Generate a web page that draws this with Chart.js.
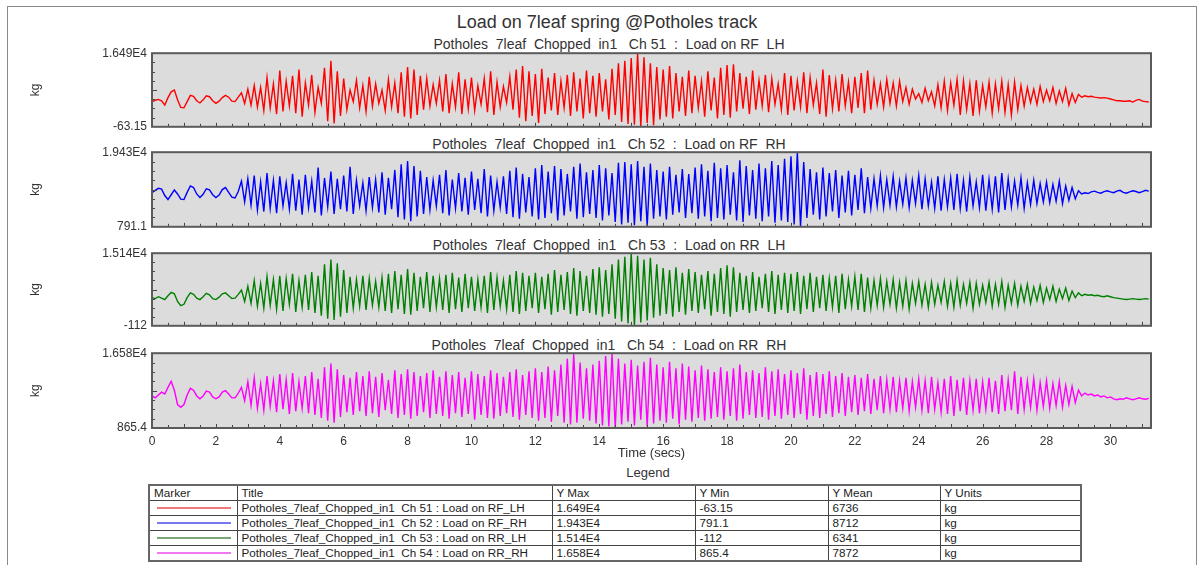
<!DOCTYPE html>
<html><head><meta charset="utf-8">
<script src="https://cdn.jsdelivr.net/npm/chart.js@4/dist/chart.umd.min.js"></script>
<style>
html,body{margin:0;padding:0;background:#fff;}
body{width:1204px;height:565px;position:relative;overflow:hidden;font-family:"Liberation Sans",Arial,sans-serif;color:#333;}
#frame{position:absolute;left:7px;top:6px;width:1188px;height:600px;border:1px solid #8a8a8a;}
.txt{position:absolute;white-space:pre;transform:translate(-50%,-50%);line-height:1;}
canvas{position:absolute;left:0;}
#legendTable{position:absolute;left:148px;top:484px;width:934px;border-collapse:collapse;font-size:11.7px;color:#222;border:2px solid #666;table-layout:fixed;}
#legendTable td{border:1px solid #444;height:14px;padding:0 0 0 4px;white-space:pre;line-height:14px;overflow:hidden;}
.mk{width:74px;height:2px;margin-left:7px;}
</style>
</head><body>
<div id="frame"></div>
<div class="txt" style="left:607px;top:22px;font-size:18px;">Load on 7leaf spring @Potholes track</div>
<div id="subs"></div>
<canvas id="c0" width="1204" height="98" style="top:41px;width:1204px;height:98px;"></canvas>
<canvas id="c1" width="1204" height="99" style="top:140px;width:1204px;height:99px;"></canvas>
<canvas id="c2" width="1204" height="97" style="top:241px;width:1204px;height:97px;"></canvas>
<canvas id="c3" width="1204" height="122" style="top:341px;width:1204px;height:122px;"></canvas>
<div class="txt" style="left:648px;top:472px;font-size:13px;">Legend</div>
<table id="legendTable"></table>
<script>
// ---------- data ----------
const SAMPLE_DT = 0.1;          // seconds between samples
const X_MAX = 31.27;            // end of record (s)
const xTickValues = [0,2,4,6,8,10,12,14,16,18,20,22,24,26,28,30];

const panelTitles = [
  "Potholes  7leaf  Chopped  in1   Ch 51  :  Load on RF  LH",
  "Potholes  7leaf  Chopped  in1   Ch 52  :  Load on RF  RH",
  "Potholes  7leaf  Chopped  in1   Ch 53  :  Load on RR  LH",
  "Potholes  7leaf  Chopped  in1   Ch 54  :  Load on RR  RH"
];
const seriesTitles = [
  "Potholes_7leaf_Chopped_in1  Ch 51 : Load on RF_LH",
  "Potholes_7leaf_Chopped_in1  Ch 52 : Load on RF_RH",
  "Potholes_7leaf_Chopped_in1  Ch 53 : Load on RR_LH",
  "Potholes_7leaf_Chopped_in1  Ch 54 : Load on RR_RH"
];
const yMaxValues = [16490, 19430, 15140, 16580];
const yMinValues = [-63.15, 791.1, -112, 865.4];
const yMaxLabels = ["1.649E4", "1.943E4", "1.514E4", "1.658E4"];
const yMinLabels = ["-63.15", "791.1", "-112", "865.4"];
const yMeanLabels = ["6736", "8712", "6341", "7872"];
const yUnits = ["kg", "kg", "kg", "kg"];
const colors = ["#ff0000", "#0000ff", "#008000", "#ff00ff"];
const markerColors = ["#f07878", "#7878f0", "#78a878", "#f078f0"];

const ch51 = [
5600,5900,6100,5800,4800,6500,7800,8200,6000,4300,
4200,5600,7000,6800,5800,5300,6000,6900,6700,5800,
5200,5700,6500,7000,6600,5700,5600,6600,7600,5200,
8400,4800,9200,4400,8800,3600,11000,4200,9600,2800,
12600,3400,10200,4600,11400,3000,12800,2200,9800,4800,
11600,3200,8800,5200,13200,1200,14800,700,12400,2400,
10800,3800,8200,5600,10400,4200,9200,3400,11200,4600,
9600,5200,8200,3600,10600,4400,9800,3000,12200,2200,
13400,1800,12800,2600,11400,3800,10800,4600,9400,5200,
10400,3400,11800,3000,9600,4400,12200,2800,10600,4000,
11000,3600,9200,5000,10800,3200,12400,2600,10000,4400,
9000,5400,11200,3800,12800,2000,13600,1200,12400,2400,
11800,800,13000,2800,11000,3600,12000,2600,10200,4200,
11600,2400,12200,3400,10800,1800,12600,3000,11400,2200,
12000,3400,10600,1600,13000,2600,14200,1000,14800,600,
15400,400,16490,-63.15,15600,800,14200,300,13400,1600,
12800,2200,13600,1800,12000,3400,11200,2400,12600,3000,
11400,4200,10200,2200,12400,3600,11000,1800,13200,2600,
13800,2000,14000,3400,12000,4000,11200,2800,12600,3800,
10400,4600,11600,3200,10800,5000,9600,3800,12000,2600,
11400,3600,10200,4400,12200,3000,11000,4800,9800,2800,
12800,2200,11600,4000,10400,3400,11800,4600,10000,3000,
11200,4200,12000,3000,12600,3800,10400,5000,9600,4400,
10600,5200,9800,4600,10200,5600,8800,5000,8400,6200,
7400,5400,8600,5800,7800,4600,9400,4200,10200,3600,
9800,4800,10600,2600,10200,3800,9600,2400,10400,3400,
9200,4400,10000,3000,9600,4000,10200,3200,9400,2600,
10000,3800,9200,4600,8800,5400,8400,5000,9000,5600,
8200,5800,8800,5200,8000,5600,8600,4800,7400,5400,
7200,6600,6900,6700,6800,6600,6500,6400,6500,6400,
6200,6000,5800,5800,5700,5700,5800,5500,5900,6100,
5700,5600,5500];

const ch52 = [
9300,9900,10400,10200,8600,7600,8800,10000,9000,7700,
7600,9400,11000,10600,9000,8100,8900,10300,10000,8800,
8100,8700,10100,10600,9400,8200,8000,9600,12200,7000,
12800,6200,13600,5000,12000,4600,14200,5400,12400,4200,
13400,6000,11800,5200,14000,4800,12600,3800,13800,5600,
12200,4400,15600,3600,13000,5800,14600,4000,12800,5200,
13600,4600,15800,4000,12400,6000,11800,4800,13200,5600,
12600,4400,14400,3800,13000,5200,15000,3200,16400,2600,
17200,2200,16000,3400,14800,4000,13200,5000,12400,6000,
13800,4200,15000,3600,12600,5400,14200,4600,13000,3800,
14600,5000,12800,4200,15200,3400,13600,4800,12000,5600,
13400,4000,14800,3200,15600,2800,14000,4400,13200,3400,
15400,2600,16200,3000,14600,4200,16000,2400,15200,3600,
14000,4600,15800,2800,16600,3200,14400,4000,15000,3000,
16200,2400,15400,3600,14200,2000,16800,1400,17000,1800,
16400,1200,17200,2200,15800,1000,16600,2800,15000,3400,
14600,2600,15800,3800,13800,4400,15200,3000,14000,4200,
15600,2800,16400,3400,14800,2200,16800,3000,15400,2600,
16200,3800,14400,2400,17400,2000,16000,3600,15000,2800,
16600,2200,15400,3400,17200,1800,16200,2400,17800,2000,
18400,1400,19430,791.1,17000,3000,15200,3800,14400,2600,
15600,3400,14200,4600,15000,3000,13600,4400,14800,3600,
13800,5000,15400,4200,13200,5400,12800,6000,13600,5600,
12600,6200,13400,5800,12200,6400,13000,5600,12400,6600,
13600,5200,12800,6000,12000,5400,13400,4800,12600,5800,
13000,5000,14000,5400,12400,4600,13200,6000,12000,5600,
13800,4800,12600,5200,13400,4400,14200,5000,12800,5800,
12200,6200,13000,5400,11800,6400,12400,6600,11600,7000,
12000,6800,11400,7200,12200,6600,11000,7400,10600,7800,
9800,9000,9300,9100,9500,9700,9400,9200,9600,9800,
9500,9300,9700,9900,9400,9200,9500,9800,9600,9300,
9600,9900,9700];

const ch53 = [
5800,5600,6000,5700,5400,6200,6900,6600,5000,4100,
4400,5800,6800,6500,5700,5400,6000,6700,6400,5600,
5400,5900,6600,6800,6200,5600,5700,6500,7400,5000,
8200,4600,9400,4000,8800,3600,10200,4200,9600,3400,
10400,3000,9800,4400,10800,2800,9400,3800,10600,3200,
11200,2600,10400,2000,12800,1400,13800,1100,13000,1800,
11600,2600,10200,3600,9600,4000,10400,3200,9800,4200,
9200,3800,10000,3000,10800,2600,11400,3400,10600,2400,
11800,2200,11000,3000,10200,3600,11200,2800,10400,3800,
9800,3200,10600,2600,11000,3400,10000,2800,10800,3600,
10200,3000,9600,3800,10400,2600,11200,3200,10000,4000,
9400,3400,10600,2800,11400,2400,11000,3000,10400,3600,
11000,2600,10200,3400,10800,2200,11600,2800,10600,3200,
11200,2400,12000,2000,11400,3000,10400,2600,11800,2200,
12200,1800,11600,2400,12800,1400,13800,800,14400,400,
15140,-112,14600,600,13800,1000,14200,1600,12800,2000,
12000,2400,11600,1800,12200,2800,11000,2200,11800,3000,
11200,2600,10600,3400,11400,2000,10800,2800,12000,2400,
12600,1800,12200,2800,11000,3200,10400,2600,11200,3000,
10200,3600,10800,2800,11400,2400,10600,3200,11000,2600,
10800,3000,11200,2400,10400,3400,11000,2800,10200,3600,
10600,3000,9800,3800,10400,2600,10800,3400,9600,4000,
10200,3200,10800,2800,10000,3600,9400,4200,9800,3800,
9200,4400,9600,3600,9000,4000,9400,3400,8800,4600,
9200,4200,8600,3800,9000,4400,8400,4800,9200,4000,
8800,3800,9400,4200,8600,4600,9000,3600,8800,4400,
8400,4800,9000,4000,8600,4400,9200,3800,8400,4600,
8800,4200,8200,5000,8600,4600,8000,5200,8400,4800,
7800,5400,8200,5000,7600,5600,7800,5200,7200,5800,
6800,6200,6500,6300,6400,6200,6300,6100,6000,6200,
6000,5800,5700,5600,5500,5400,5500,5600,5500,5400,
5500,5600,5500];

const ch54 = [
7600,7200,7800,8400,8000,9400,10700,8800,5800,5200,
5800,7800,9200,8800,7600,7000,7600,8600,8400,7400,
7000,7400,8400,8700,8000,7200,7200,8200,9400,6600,
10600,5600,11400,5000,10200,4600,11800,5400,10800,4200,
12200,4800,11000,3800,12400,4400,10600,5000,11800,4000,
12600,3600,11200,3000,13600,2400,14400,2000,13200,3200,
12000,4200,11400,3600,12600,4400,11800,3400,12800,4000,
11600,3200,12400,4600,11000,3800,13000,3000,12200,3600,
13200,2800,12600,3400,11800,4200,12400,3000,13000,3800,
11600,3400,12800,2800,12000,4000,12600,3200,11400,3800,
12800,2600,12200,3600,11800,3000,13000,2800,12400,3400,
11600,4000,12600,3200,13200,2600,12000,3600,12800,3000,
13400,2400,12600,3000,13800,2200,13000,3400,14200,2000,
15400,1600,16400,2000,14600,2800,13400,2400,14200,1800,
15000,1400,16000,1200,16580,865.4,15400,1600,14400,2200,
15200,1400,14000,2600,14800,1200,15600,1800,14200,2400,
13600,2000,14800,2800,13400,1600,14400,2600,13800,2200,
13000,3000,14000,2400,13200,2800,12600,3200,13600,2600,
12800,3400,13400,2400,14200,2800,12600,3600,13000,3000,
12400,3200,13600,2600,12800,3400,13200,2800,12200,3600,
13000,3000,12400,3800,13400,2600,12000,3400,12600,3000,
12200,3800,12800,3200,11800,4000,12400,3400,11600,4200,
12000,3600,11400,4400,12200,3800,11200,4600,11800,4000,
11000,4800,11600,4200,10800,5000,11400,4400,10600,5200,
11200,4600,10800,4000,11600,4800,10400,4200,11200,3800,
11800,3400,11000,4400,11400,3600,10800,4600,11200,4000,
10600,4800,11400,4200,10800,3800,12000,4400,11000,4600,
12800,3800,11600,4800,10800,5200,11200,4600,10400,5400,
10800,5000,10200,5600,10600,5200,9800,5800,9600,6200,
8800,7600,8200,7800,8000,7600,7800,7400,7600,7200,
7400,7000,6800,7000,6900,7200,7000,6800,7000,7200,
7000,6900,7100];

const seriesValues = [ch51, ch52, ch53, ch54];
const times = ch51.map((_, i) => Math.round(i * SAMPLE_DT * 10) / 10);

// ---------- subtitles ----------
const subTop = [44, 144, 245, 345];
const subsEl = document.getElementById('subs');
panelTitles.forEach((t, i) => {
  const d = document.createElement('div');
  d.className = 'txt';
  d.style.cssText = `left:609px;top:${subTop[i]}px;font-size:14px;`;
  d.textContent = t;
  subsEl.appendChild(d);
});

// ---------- chart panels ----------
const FONT = '"Liberation Sans", Arial, sans-serif';
const panelPlugin = {
  id: 'panelFrame',
  beforeDatasetsDraw(chart) {
    const {ctx, chartArea: a} = chart;
    ctx.save();
    ctx.fillStyle = '#dcdcdc';
    ctx.fillRect(a.left, a.top, a.right - a.left, a.bottom - a.top);
    ctx.restore();
  },
  afterDatasetsDraw(chart) {
    const {ctx, chartArea: a, scales} = chart;
    ctx.save();
    ctx.strokeStyle = '#444';
    ctx.lineWidth = 1;
    // inward x ticks every 0.5 s
    for (let k = 1; k * 0.5 < X_MAX; k++) {
      const v = k * 0.5;
      const px = Math.round(scales.x.getPixelForValue(v)) + 0.5;
      const len = (k % 2 === 0) ? 4 : 3;
      ctx.beginPath(); ctx.moveTo(px, a.bottom); ctx.lineTo(px, a.bottom - len); ctx.stroke();
    }
    // inward y ticks
    const n = 8;
    for (let k = 1; k < n; k++) {
      const py = Math.round(a.top + (a.bottom - a.top) * k / n) + 0.5;
      const len = (k === n / 2) ? 5 : 3;
      ctx.beginPath(); ctx.moveTo(a.left, py); ctx.lineTo(a.left + len, py); ctx.stroke();
    }
    // frame
    ctx.strokeStyle = '#5a5a5a';
    ctx.lineWidth = 2;
    ctx.strokeRect(a.left, a.top, a.right - a.left, a.bottom - a.top);
    ctx.restore();
  }
};

function makePanel(i) {
  const showX = (i === 3);
  new Chart(document.getElementById('c' + i), {
    type: 'line',
    data: {
      labels: times,
      datasets: [{
        data: seriesValues[i],
        borderColor: colors[i],
        borderWidth: 1.4,
        pointRadius: 0,
        tension: 0,
        fill: false
      }]
    },
    options: {
      responsive: false,
      animation: false,
      events: [],
      layout: {padding: {left: 28, right: 53, top: 10, bottom: showX ? 0 : 10}},
      plugins: {legend: {display: false}, title: {display: false}, tooltip: {enabled: false}},
      scales: {
        x: {
          type: 'linear', min: 0, max: X_MAX, display: showX,
          grid: {display: false, drawTicks: false}, border: {display: false},
          afterBuildTicks: s => { s.ticks = xTickValues.map(v => ({value: v})); },
          afterFit: s => { if (showX) s.height = 35; },
          ticks: {padding: 6, color: '#333', font: {size: 12, family: FONT}, maxRotation: 0, autoSkip: false,
                  callback: v => String(v)},
          title: {display: true, text: 'Time (secs)', color: '#333', font: {size: 13, family: FONT},
                  padding: {top: 0, bottom: 2}}
        },
        y: {
          min: yMinValues[i], max: yMaxValues[i],
          grid: {display: false, drawTicks: false}, border: {display: false},
          afterBuildTicks: s => { s.ticks = [{value: yMinValues[i]}, {value: yMaxValues[i]}]; },
          afterFit: s => { s.width = 152 - 28; },
          ticks: {padding: 5, color: '#333', font: {size: 12, family: FONT}, autoSkip: false,
                  callback: (v, idx) => idx === 1 ? yMaxLabels[i] : yMinLabels[i]},
          title: {display: true, text: 'kg', color: '#333', font: {size: 12, family: FONT},
                  padding: {top: 0, bottom: 0}}
        }
      }
    },
    plugins: [panelPlugin]
  });
}
[0, 1, 2, 3].forEach(makePanel);

// ---------- legend table ----------
const colW = [88, 315, 143, 133, 112, 141];
const tbl = document.getElementById('legendTable');
const cg = document.createElement('colgroup');
colW.forEach(w => { const c = document.createElement('col'); c.style.width = w + 'px'; cg.appendChild(c); });
tbl.appendChild(cg);
const header = ['Marker', 'Title', 'Y Max', 'Y Min', 'Y Mean', 'Y Units'];
let tr = document.createElement('tr');
header.forEach(h => { const td = document.createElement('td'); td.textContent = h; tr.appendChild(td); });
tbl.appendChild(tr);
for (let i = 0; i < 4; i++) {
  tr = document.createElement('tr');
  const mk = document.createElement('td');
  mk.style.padding = '0';
  const line = document.createElement('div');
  line.className = 'mk';
  line.style.background = markerColors[i];
  mk.appendChild(line);
  tr.appendChild(mk);
  [seriesTitles[i], yMaxLabels[i], yMinLabels[i], yMeanLabels[i], yUnits[i]].forEach(t => {
    const td = document.createElement('td'); td.textContent = t; tr.appendChild(td);
  });
  tbl.appendChild(tr);
}
</script>
</body></html>
